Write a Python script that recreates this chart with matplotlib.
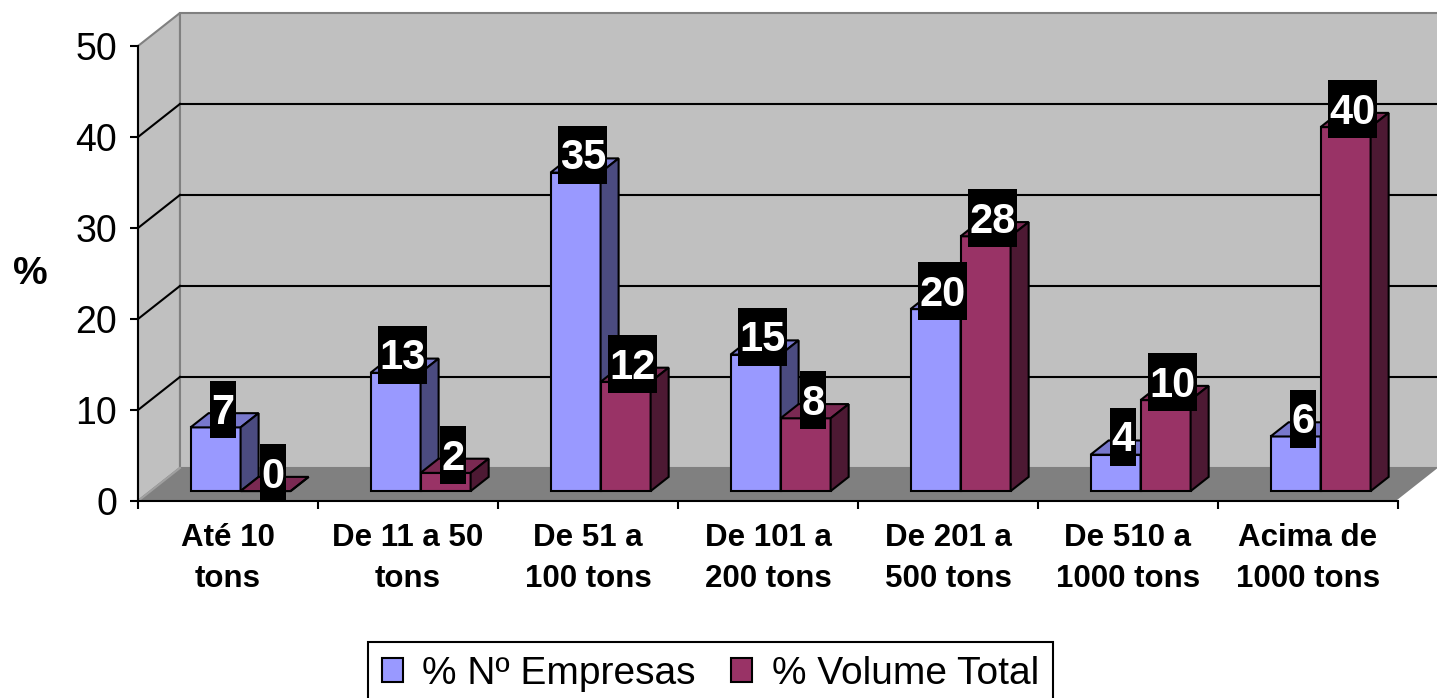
import matplotlib.pyplot as plt
from matplotlib.patches import Polygon, Patch
from matplotlib.path import Path

plt.rcParams['font.family'] = ['Liberation Sans', 'DejaVu Sans']

# Data
categories = ['Até 10\ntons', 'De 11 a 50\ntons', 'De 51 a\n100 tons', 'De 101 a\n200 tons',
              'De 201 a\n500 tons', 'De 510 a\n1000 tons', 'Acima de\n1000 tons']
empresas = [7, 13, 35, 15, 20, 4, 6]
volume = [0, 2, 12, 8, 28, 10, 40]
series_names = ['% Nº Empresas', '% Volume Total']
yticks = [0, 10, 20, 30, 40, 50]

# 3D look: depth offset of the box and of the bars (data units)
DX, DY = 0.233, 3.63
D0, DD = 0.30, 0.43
W = 0.278

face = {'blue': ('#9999FF', '#7878CC', '#4B4B80'),
        'red': ('#993366', '#7A2952', '#4D1933')}

W_PX, H_PX = 1437, 698
fig = plt.figure(figsize=(W_PX / 100, H_PX / 100), dpi=100)
ax = fig.add_axes([0, 0, 1, 1])
ax.patch.set_visible(False)

# axis scale: 180 px per category, 9.1 px per unit; origin at (138, 501) px
ax.set_xlim(-138 / 180, (W_PX - 138) / 180)
ax.set_ylim(-(H_PX - 501) / 9.1, 501 / 9.1)
n = len(categories)
top = yticks[-1]

# walls and floor
ax.add_patch(Polygon([(DX, DY), (n + DX, DY), (n + DX, top + DY), (DX, top + DY)],
                     facecolor='#C0C0C0', edgecolor='#808080', lw=1.5, zorder=0))
ax.add_patch(Polygon([(0, 0), (DX, DY), (DX, top + DY), (0, top)],
                     facecolor='#C0C0C0', edgecolor='#808080', lw=1.5, zorder=0))
ax.add_patch(Polygon([(0, 0), (n, 0), (n + DX, DY), (DX, DY)],
                     facecolor='#808080', edgecolor='none', zorder=1))
ax.plot([n, n + DX], [0, DY], color='white', lw=2, zorder=1)
ax.plot([0, DX], [0, DY], color='#A0A0A0', lw=1.5, zorder=1)

for v in yticks[1:-1]:
    ax.plot([DX, n + DX], [v + DY, v + DY], color='black', lw=1.5, zorder=0.5)
    ax.plot([0, DX], [v, v + DY], color='black', lw=1.5, zorder=0.5)

base = D0 * DY
centers = [i + 0.5 + D0 * DX for i in range(n)]


def draw_bars(xs, vals, cols, z):
    ax.bar(xs, vals, width=W, bottom=base, align='edge', color=cols[0],
           edgecolor='black', lw=1.5, zorder=z)
    for x0, v in zip(xs, vals):
        y1 = base + v
        ax.add_patch(Polygon([(x0, y1), (x0 + W, y1), (x0 + W + DD * DX, y1 + DD * DY),
                              (x0 + DD * DX, y1 + DD * DY)],
                             facecolor=cols[1], edgecolor='black', lw=1.5, zorder=z))
        ax.add_patch(Polygon([(x0 + W, base), (x0 + W, y1), (x0 + W + DD * DX, y1 + DD * DY),
                              (x0 + W + DD * DX, base + DD * DY)],
                             facecolor=cols[2], edgecolor='black', lw=1.5, zorder=z))


def label_box(x0, y0, width, height, mutation_size):
    x1, x2 = x0 - 0.03 * mutation_size, x0 + width + 0.03 * mutation_size
    yb, yt = y0 - 0.13 * mutation_size, y0 + height + 0.3 * mutation_size
    return Path([(x1, yb), (x2, yb), (x2, yt), (x1, yt), (x1, yb)], closed=True)


def draw_labels(xs, vals):
    for x0, v in zip(xs, vals):
        ax.text(x0 + W / 2 + DD * DX / 2 - 0.01, base + v + DD * DY / 2 + 0.8, str(v),
                ha='center', va='center', color='white', fontsize=30, fontweight='bold',
                bbox=dict(boxstyle=label_box, facecolor='black', edgecolor='none'),
                zorder=10)


xb = [c - W for c in centers]
xr = list(centers)
draw_bars(xb, empresas, face['blue'], 3)
draw_bars(xr, volume, face['red'], 4)
draw_labels(xb, empresas)
draw_labels(xr, volume)

# front axes
for s in ['top', 'right']:
    ax.spines[s].set_visible(False)
ax.spines['left'].set_position(('data', 0))
ax.spines['left'].set_bounds(0, top)
ax.spines['bottom'].set_position(('data', 0))
ax.spines['bottom'].set_bounds(0, n)
for s in ['left', 'bottom']:
    ax.spines[s].set_linewidth(1.5)
    ax.spines[s].set_zorder(6)

ax.set_yticks(yticks)
ax.set_yticklabels([str(t) for t in yticks], fontsize=27)
ax.tick_params(axis='y', direction='out', length=6, width=1.5, pad=9)
ax.set_xticks(range(n + 1))
ax.set_xticklabels([])
ax.tick_params(axis='x', which='major', direction='out', length=6, width=1.5)
ax.set_xticks([i + 0.5 for i in range(n)], minor=True)
ax.set_xticklabels(categories, minor=True, fontsize=22.5, fontweight='bold', linespacing=1.45)
ax.tick_params(axis='x', which='minor', length=0, pad=16)

fig.text(30 / W_PX, 1 - 274 / H_PX, '%', ha='center', va='center', fontsize=28, fontweight='bold')

handles = [Patch(facecolor=face['blue'][0], edgecolor='black', lw=1.5),
           Patch(facecolor=face['red'][0], edgecolor='black', lw=1.5)]
leg = fig.legend(handles, series_names, loc='upper left', ncol=2,
                 bbox_to_anchor=(368 / W_PX, 1 - 642 / H_PX), borderaxespad=0,
                 fontsize=28, handlelength=0.55, handleheight=0.55, handletextpad=0.5,
                 columnspacing=0.9, borderpad=0.35, fancybox=False, framealpha=1)
leg.get_frame().set_edgecolor('black')
leg.get_frame().set_linewidth(1.5)

fig.savefig('out.png', dpi=100)
